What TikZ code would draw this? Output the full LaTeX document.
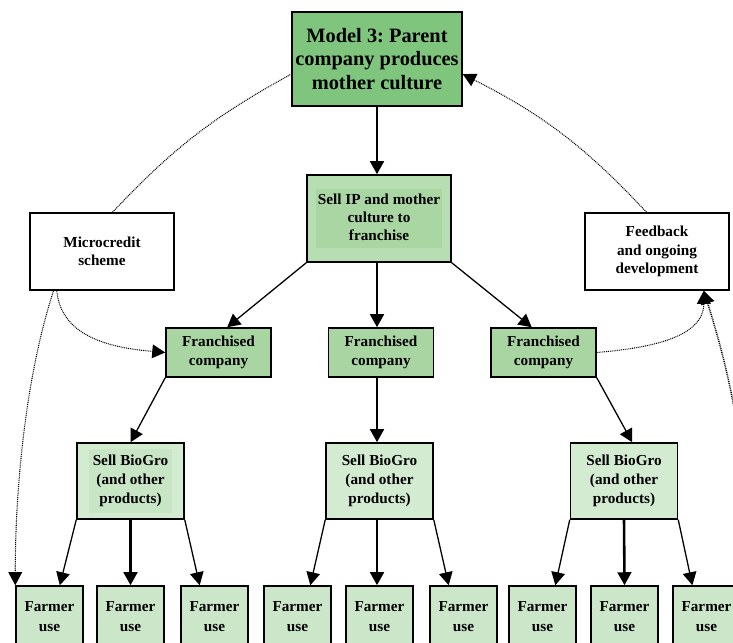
\documentclass[tikz,border=0pt]{standalone}
\usepackage{fontspec}
\setmainfont{Liberation Serif}
\usetikzlibrary{arrows.meta, positioning}
\usepackage{xcolor}
\definecolor{parentgreen}{HTML}{80C57E}
\definecolor{ipgreen}{HTML}{B7DDB3}
\definecolor{ippatch}{HTML}{AAD6A4}
\definecolor{franchgreen}{HTML}{A9D5A2}
\definecolor{shopgreen}{HTML}{D3EBD1}
\definecolor{shoppatch}{HTML}{C8E5C5}
\definecolor{farmgreen}{HTML}{CBE6C9}
\frenchspacing

\begin{document}
\begin{tikzpicture}[
            x=0.03cm, y=0.03cm,
            parent/.style={
                rectangle, 
                draw, 
                line width=1.3pt, 
                fill=parentgreen, 
                minimum width=5.1cm, 
                minimum height=2.82cm, 
                inner sep=0pt, 
                align=center, 
                font=\fontsize{17.4}{20.4}\selectfont\bfseries
            },
            offer/.style={
                rectangle, 
                draw, 
                line width=1.3pt, 
                fill=ipgreen, 
                minimum width=4.32cm, 
                minimum height=2.61cm, 
                inner sep=0pt, 
                align=center, 
                font=\fontsize{13}{15.4}\selectfont\bfseries
            },
            side/.style={
                rectangle, 
                draw, 
                line width=1.3pt, 
                fill=white, 
                minimum width=4.32cm, 
                minimum height=2.31cm, 
                inner sep=0pt, 
                align=center, 
                font=\fontsize{13}{15.6}\selectfont\bfseries
            },
            franchise/.style={
                rectangle, 
                draw, 
                line width=1.3pt, 
                fill=franchgreen, 
                minimum width=3.15cm, 
                minimum height=1.47cm, 
                inner sep=0pt, 
                align=center, 
                font=\fontsize{13}{16.2}\selectfont\bfseries
            },
            shop/.style={
                rectangle, 
                draw, 
                line width=1.3pt, 
                fill=shopgreen, 
                minimum width=3.21cm, 
                minimum height=2.28cm, 
                inner sep=0pt, 
                align=center, 
                font=\fontsize{13}{16.2}\selectfont\bfseries
            },
            farmer/.style={
                rectangle, 
                draw, 
                line width=1.3pt, 
                fill=farmgreen, 
                minimum width=2.01cm, 
                minimum height=1.86cm, 
                inner sep=0pt, 
                align=center, 
                font=\fontsize{13}{17}\selectfont\bfseries
            },
            arrow/.style={
                -{Triangle[length=3.9mm, width=4.1mm]}, 
                line width=1.1pt
            },
            bigarrow/.style={
                -{Triangle[length=3.9mm, width=4.1mm]}, 
                line width=2.2pt
            },
            link/.style={
                dash pattern=on 0.8pt off 0.8pt, 
                line width=0.9pt, 
                black
            },
            linkarrow/.style={
                link, 
                -{Triangle[length=3.9mm, width=4.1mm]}
            }
        ]
        
        % Page frame
        \useasboundingbox (0,0) rectangle (733,-642);
        \clip (0,0) rectangle (733,-642);
        
        % Parent company Node
        \node (model) [parent] at (377,-59) {Model 3: Parent\\company produces\\mother culture};
        
        % Selling to franchise
        \node (sellip) [offer] at (379,-218.5) {\setlength{\fboxsep}{1.7pt}\colorbox{ippatch}{\begin{tabular}{@{}c@{}}Sell IP and mother\\culture to\\franchise\end{tabular}}};
        
        % Side boxes
        \node (micro) [side] at (102,-251.5) {Microcredit\\scheme};
        \node (feedback) [side] at (657,-251.5) {Feedback\\and ongoing\\development};
        
        % Franchised companies
        \node (franchL) [franchise] at (218.5,-352.5) {Franchised\\company};
        \node (franchM) [franchise] at (381,-352.5) {Franchised\\company};
        \node (franchR) [franchise] at (543.5,-352.5) {Franchised\\company};
        
        % Selling BioGro
        \node (sellL) [shop] at (130.5,-481) {\setlength{\fboxsep}{3pt}\colorbox{shoppatch}{\begin{tabular}{@{}c@{}}Sell BioGro\\(and other\\products)\end{tabular}}};
        \node (sellM) [shop] at (379.5,-481) {Sell BioGro\\(and other\\products)};
        \node (sellR) [shop] at (624,-481) {Sell BioGro\\(and other\\products)};
        
        % Farmers
        \node (farmer1) [farmer] at (49.5,-617) {Farmer\\use};
        \node (farmer2) [farmer] at (130.5,-617) {Farmer\\use};
        \node (farmer3) [farmer] at (214.5,-617) {Farmer\\use};
        \node (farmer4) [farmer] at (297.5,-617) {Farmer\\use};
        \node (farmer5) [farmer] at (379.5,-617) {Farmer\\use};
        \node (farmer6) [farmer] at (463.5,-617) {Farmer\\use};
        \node (farmer7) [farmer] at (542.5,-617) {Farmer\\use};
        \node (farmer8) [farmer] at (624.5,-617) {Farmer\\use};
        \node (farmer9) [farmer] at (706.5,-617) {Farmer\\use};
        
        % Arrows down the chain
        \draw[bigarrow] (model.south) -- (model.south |- sellip.north);
        \draw[arrow] (sellip.south west) -- (franchL.71);
        \draw[bigarrow] (model.south |- sellip.south) -- (model.south |- franchM.north);
        \draw[arrow] (sellip.south east) -- (franchR.115);
        
        \draw[arrow] (franchL.south west) -- (sellL.north);
        \draw[bigarrow] (model.south |- franchM.south) -- (model.south |- sellM.north);
        \draw[arrow] (franchR.south east) -- (sellR.78);
        
        % Arrows to farmers
        \draw[arrow] (sellL.south west) -- (farmer1.72);
        \draw[bigarrow] (sellL.south) -- (farmer2.north);
        \draw[arrow] (sellL.south east) -- (farmer3.115);
        \draw[arrow] (sellM.south west) -- (farmer4.68);
        \draw[bigarrow] (model.south |- sellM.south) -- (model.south |- farmer5.north);
        \draw[arrow] (sellM.south east) -- (farmer6.115);
        \draw[arrow] (sellR.south west) -- (farmer7.68);
        \draw[bigarrow] (sellR.south) -- (farmer8.north);
        \draw[arrow] (sellR.south east) -- (farmer9.114);
        
        % Dotted links
        \draw[link] (micro.75) to[bend left=9] (model.190);
        \draw[linkarrow] (feedback.105) to[bend right=10] (model.-10);
        \draw[linkarrow] (micro.-139) to[out=-85, in=175] (franchL.west);
        \draw[linkarrow] (micro.-141) to[out=-108, in=90, looseness=0.8] (farmer1.north west);
        \draw[linkarrow] (franchR.east) to[out=5, in=-90] (feedback.-40);
        \coordinate (offright) at (745,-480);
        \draw[linkarrow, line width=1.3pt] (offright) to[bend right=5] (feedback.-40);
        
        \end{tikzpicture}
\end{document}
